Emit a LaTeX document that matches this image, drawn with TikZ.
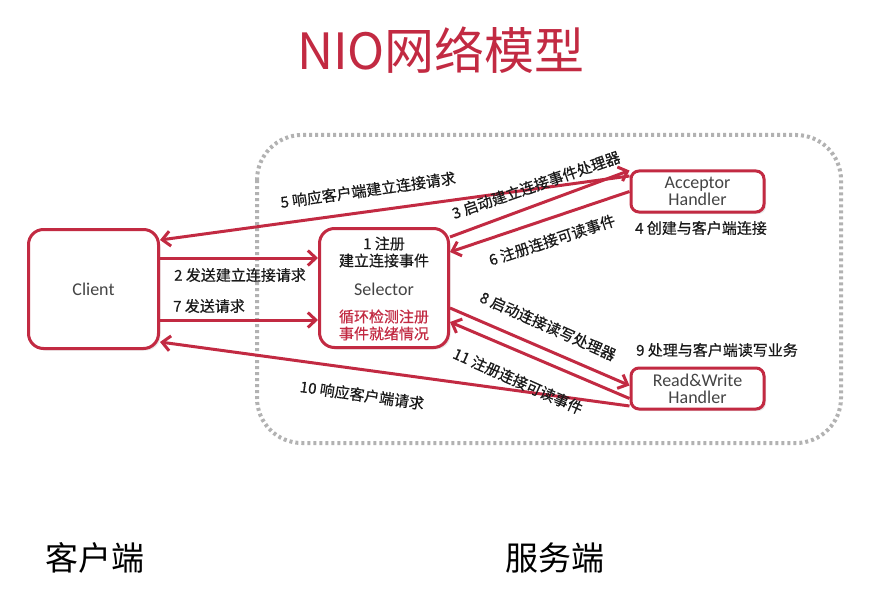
\documentclass[tikz,border=0pt]{standalone}
\usepackage{fontspec}
\setmainfont{Noto Sans CJK SC}
\newfontfamily\lblfont{Noto Sans CJK SC}[FakeBold=0.5]
\newfontfamily\latinfont{Carlito}
\usetikzlibrary{arrows.meta,shadows}

\definecolor{nioRed}{RGB}{194,42,66}
\definecolor{boxText}{RGB}{68,68,68}

\tikzset{
  box/.style={draw=nioRed, line width=3pt, fill=white, rounded corners=15pt,
    drop shadow={opacity=0.2, shadow xshift=2pt, shadow yshift=-2pt}},
  handler/.style={box, rounded corners=8pt, minimum width=133pt, minimum height=41pt,
    align=center, text=boxText, font=\latinfont\fontsize{18}{17}\selectfont},
  link/.style={draw=nioRed, line width=3pt, -{Straight Barb[length=8pt,width=15pt]}},
  lbl/.style={font=\lblfont\fontsize{15}{17}\selectfont, text=black!90, inner sep=1pt},
}

\begin{document}
\begin{tikzpicture}[x=1pt, y=-1pt]
    \useasboundingbox (0,0) rectangle (877,604);

    % Title
    \node[text=nioRed, font=\fontsize{50}{50}\selectfont] (title) at (441,50) {NIO网络模型};

    % Server frame
    \draw[gray!60, line width=4pt, dash pattern=on 3pt off 3pt, rounded corners=45pt]
        (257,135) rectangle (841,443);

    % Boxes
    \node[box, minimum width=130pt, minimum height=119pt, text=boxText,
          font=\latinfont\fontsize{18}{18}\selectfont] (client) at (93.5,289) {Client};
    \node[box, minimum width=129pt, minimum height=119pt] (sel) at (384,288) {};
    \node[handler] (acc) at (697.5,191.5) {Acceptor\\Handler};
    \node[handler] (rw) at (697.5,388.5) {Read\&Write\\Handler};

    % Selector text
    \node[lbl, align=center] (selreg) at (384,252) {1 注册\\建立连接事件};
    \node[text=boxText, font=\latinfont\fontsize{18}{18}\selectfont] (selname) at (384,289) {Selector};
    \node[lbl, align=center, text=nioRed] (selloop) at (384,325) {循环检测注册\\事件就绪情况};

    % Connections
    \draw[link] ([yshift=15.5pt]acc.west) -- ([yshift=49pt]client.east);
    \draw[link] ([yshift=51pt]sel.east) -- ([yshift=21pt]acc.west);
    \draw[link] ([yshift=0pt]acc.west) -- ([yshift=36pt]sel.east);
    \draw[link] ([yshift=31pt]client.east) -- ([yshift=30pt]sel.west);
    \draw[link] ([yshift=-31pt]client.east) -- ([yshift=-32pt]sel.west);
    \draw[link] ([yshift=-20pt]sel.east) -- ([yshift=3pt]rw.west);
    \draw[link] ([yshift=-10pt]rw.west) -- ([yshift=-34pt]sel.east);
    \draw[link] ([yshift=-17.5pt]rw.west) -- ([yshift=-53pt]client.east);

    % Labels
    \node[lbl, rotate=8] (l5) at (368,190) {5 响应客户端建立连接请求};
    \node[lbl, rotate=19] (l3) at (536,185) {3 启动建立连接事件处理器};
    \node[lbl, rotate=18] (l6) at (552,240) {6 注册连接可读事件};
    \node[lbl] (l4) at (701,228) {4 创建与客户端连接};
    \node[lbl] (l2) at (240,275) {2 发送建立连接请求};
    \node[lbl] (l7) at (209,306) {7 发送请求};
    \node[lbl, rotate=-24] (l8) at (548,326) {8 启动连接读写处理器};
    \node[lbl] (l9) at (717,350) {9 处理与客户端读写业务};
    \node[lbl, rotate=-24] (l11) at (518,381) {11 注册连接可读事件};
    \node[lbl, rotate=-8] (l10) at (362,395) {10 响应客户端请求};

    % Sides
    \node[font=\fontsize{33}{33}\selectfont] (clientside) at (95,558) {客户端};
    \node[font=\fontsize{33}{33}\selectfont] (serverside) at (555,558) {服务端};
\end{tikzpicture}
\end{document}
